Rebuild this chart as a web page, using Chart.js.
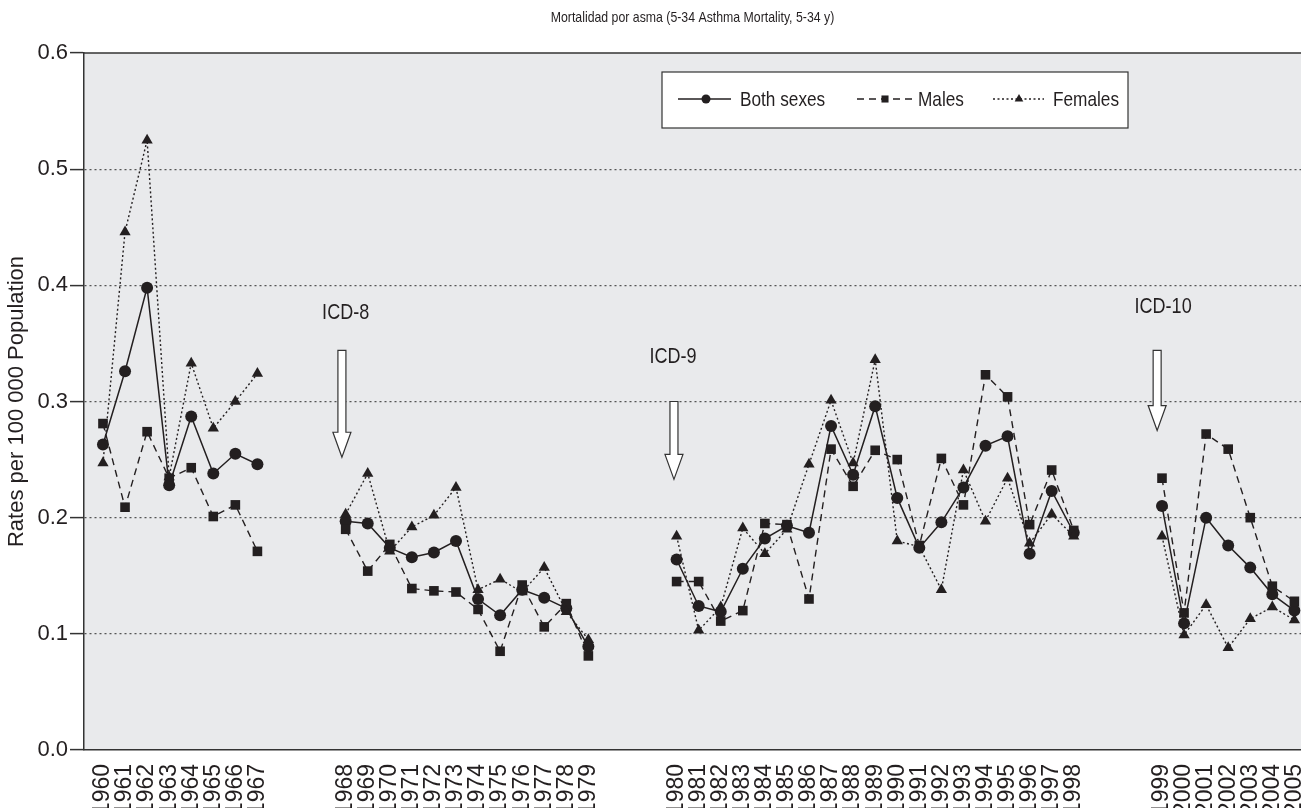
<!DOCTYPE html>
<html>
<head>
<meta charset="utf-8">
<script src="https://cdn.jsdelivr.net/npm/chart.js@4.4.1/dist/chart.umd.min.js"></script>
<style>
  html, body { margin: 0; padding: 0; background: #fff; }
</style>
</head>
<body>
<canvas id="myChart" width="1301" height="808"></canvas>
<script>
// categories along the x axis ('' = empty slot between the ICD periods)
const categories = [
  '1960', '1961', '1962', '1963', '1964', '1965', '1966', '1967', '', '', '',
  '1968', '1969', '1970', '1971', '1972', '1973', '1974', '1975', '1976', '1977', '1978', '1979', '', '', '',
  '1980', '1981', '1982', '1983', '1984', '1985', '1986', '1987', '1988', '1989', '1990', '1991', '1992',
  '1993', '1994', '1995', '1996', '1997', '1998', '', '', '',
  '1999', '2000', '2001', '2002', '2003', '2004', '2005',
];

const bothSexes = [
  0.263, 0.326, 0.398, 0.228, 0.287, 0.238, 0.255, 0.246, null, null, null,
  0.197, 0.195, 0.174, 0.166, 0.170, 0.180, 0.130, 0.116, 0.138, 0.131, 0.122, 0.089, null, null, null,
  0.164, 0.124, 0.119, 0.156, 0.182, 0.193, 0.187, 0.279, 0.237, 0.296, 0.217, 0.174, 0.196,
  0.226, 0.262, 0.270, 0.169, 0.223, 0.187, null, null, null,
  0.210, 0.109, 0.200, 0.176, 0.157, 0.134, 0.120,
];

const males = [
  0.281, 0.209, 0.274, 0.234, 0.243, 0.201, 0.211, 0.171, null, null, null,
  0.190, 0.154, 0.177, 0.139, 0.137, 0.136, 0.121, 0.085, 0.142, 0.106, 0.126, 0.081, null, null, null,
  0.145, 0.145, 0.111, 0.120, 0.195, 0.194, 0.130, 0.259, 0.227, 0.258, 0.250, 0.176, 0.251,
  0.211, 0.323, 0.304, 0.194, 0.241, 0.189, null, null, null,
  0.234, 0.118, 0.272, 0.259, 0.200, 0.141, 0.128,
];

const females = [
  0.247, 0.446, 0.525, 0.235, 0.333, 0.277, 0.300, 0.324, null, null, null,
  0.203, 0.238, 0.171, 0.192, 0.202, 0.226, 0.138, 0.147, 0.136, 0.157, 0.119, 0.095, null, null, null,
  0.184, 0.103, 0.123, 0.191, 0.169, 0.190, 0.246, 0.301, 0.247, 0.336, 0.180, 0.175, 0.138,
  0.241, 0.197, 0.234, 0.178, 0.203, 0.184, null, null, null,
  0.184, 0.099, 0.125, 0.088, 0.113, 0.123, 0.112,
];

const yTicks = [0, 0.1, 0.2, 0.3, 0.4, 0.5, 0.6];

// ICD revision markers (x in category slots, y in rate units)
const icdLabels = ['ICD-8', 'ICD-9', 'ICD-10'];
const icdTextX = [11.0, 25.84, 48.05];
const icdTextY = [0.376, 0.338, 0.381];
const icdArrowX = [10.83, 25.88, 47.78];
const icdArrowTop = [0.344, 0.300, 0.344];
const icdArrowTip = [0.252, 0.233, 0.275];

const chartTitle = 'Mortalidad por asma (5-34 Asthma Mortality, 5-34 y)';

const INK = '#231f20';
const REG = '"Liberation Sans", Arial, sans-serif';

const toPoints = (arr) => arr.map((v, i) => ({ x: i, y: v }));

// narrow helvetica look: squeeze Liberation Sans horizontally
function narrowText(ctx, text, x, y, size, align) {
  ctx.save();
  ctx.translate(x, y);
  ctx.scale(0.82, 1);
  ctx.font = size + 'px ' + REG;
  ctx.fillStyle = INK;
  ctx.textAlign = align;
  ctx.textBaseline = 'middle';
  ctx.fillText(text, 0, 0);
  ctx.restore();
}

const plotFrame = {
  id: 'plotFrame',
  beforeDraw(chart) {
    const { ctx, chartArea: a } = chart;
    ctx.save();
    ctx.fillStyle = '#e9eaec';
    ctx.fillRect(a.left, a.top, a.right - a.left, a.bottom - a.top);
    ctx.restore();
  },
  afterDraw(chart) {
    const { ctx, chartArea: a } = chart;
    ctx.save();
    ctx.strokeStyle = '#333';
    ctx.lineWidth = 1.5;
    ctx.beginPath();
    ctx.moveTo(a.left, a.top);
    ctx.lineTo(a.right, a.top);
    ctx.stroke();
    ctx.restore();
    narrowText(ctx, chartTitle, (a.left + a.right) / 2, 18, 15, 'center');
  },
};

const icdMarkers = {
  id: 'icdMarkers',
  afterDatasetsDraw(chart) {
    const { ctx } = chart;
    const xs = chart.scales.x;
    const ys = chart.scales.y;
    icdLabels.forEach((label, i) => {
      narrowText(ctx, label, xs.getPixelForValue(icdTextX[i]), ys.getPixelForValue(icdTextY[i]), 22, 'center');

      const x = xs.getPixelForValue(icdArrowX[i]);
      const top = ys.getPixelForValue(icdArrowTop[i]);
      const tip = ys.getPixelForValue(icdArrowTip[i]);
      const head = tip - 25;
      ctx.save();
      ctx.beginPath();
      ctx.moveTo(x - 4, top);
      ctx.lineTo(x + 4, top);
      ctx.lineTo(x + 4, head);
      ctx.lineTo(x + 9, head);
      ctx.lineTo(x, tip);
      ctx.lineTo(x - 9, head);
      ctx.lineTo(x - 4, head);
      ctx.closePath();
      ctx.fillStyle = '#fff';
      ctx.fill();
      ctx.strokeStyle = '#333';
      ctx.lineWidth = 1.2;
      ctx.stroke();
      ctx.restore();
    });
  },
};

const boxLegend = {
  id: 'boxLegend',
  afterDatasetsDraw(chart) {
    const { ctx, chartArea: a } = chart;
    const x0 = a.right - 639;
    const y0 = a.top + 19;
    const cy = y0 + 27;
    ctx.save();
    ctx.fillStyle = '#fff';
    ctx.fillRect(x0, y0, 466, 56);
    ctx.strokeStyle = '#333';
    ctx.lineWidth = 1.2;
    ctx.strokeRect(x0, y0, 466, 56);

    const items = chart.data.datasets.slice().reverse();
    const layout = [
      { l1: 16, l2: 69, m: 44, t: 78 },
      { l1: 195, l2: 250, m: 223, t: 256 },
      { l1: 331, l2: 382, m: 357, t: 391 },
    ];
    items.forEach((ds, i) => {
      const p = layout[i];
      ctx.strokeStyle = INK;
      ctx.lineWidth = 1.3;
      ctx.setLineDash(ds.borderDash || []);
      ctx.beginPath();
      ctx.moveTo(x0 + p.l1, cy);
      ctx.lineTo(x0 + p.l2, cy);
      ctx.stroke();
      ctx.setLineDash([]);
      ctx.fillStyle = INK;
      Chart.helpers.drawPoint(ctx, {
        pointStyle: ds.pointStyle, rotation: 0, radius: ds.legendRadius, borderWidth: 0,
      }, x0 + p.m, cy);
      narrowText(ctx, ds.label, x0 + p.t, cy + 1, 21, 'left');
    });
    ctx.restore();
  },
};

new Chart('myChart', {
  type: 'line',
  data: {
    datasets: [
      {
        label: 'Females',
        data: toPoints(females),
        borderColor: INK,
        backgroundColor: INK,
        borderWidth: 1.4,
        borderDash: [2, 2.5],
        pointStyle: 'triangle',
        pointRadius: 6.5,
        pointBorderWidth: 0,
        legendRadius: 5,
      },
      {
        label: 'Males',
        data: toPoints(males),
        borderColor: INK,
        backgroundColor: INK,
        borderWidth: 1.4,
        borderDash: [7, 5],
        pointStyle: 'rect',
        pointRadius: 6.8,
        pointBorderWidth: 0,
        legendRadius: 5,
      },
      {
        label: 'Both sexes',
        data: toPoints(bothSexes),
        borderColor: INK,
        backgroundColor: INK,
        borderWidth: 1.5,
        pointStyle: 'circle',
        pointRadius: 6,
        pointBorderWidth: 0,
        legendRadius: 4.5,
      },
    ],
  },
  options: {
    responsive: false,
    animation: false,
    devicePixelRatio: 1,
    spanGaps: false,
    elements: { line: { tension: 0 } },
    layout: { padding: { top: 53, left: 0, right: 0, bottom: 0 }, autoPadding: false },
    plugins: {
      legend: { display: false },
      tooltip: { enabled: false },
      title: { display: false },
    },
    scales: {
      x: {
        type: 'linear',
        min: -0.86,
        max: 54.3,
        afterBuildTicks(scale) {
          scale.ticks = categories.map((c, i) => ({ value: i }));
        },
        afterFit(scale) {
          scale.height = 58;
          scale.paddingLeft = 0;
          scale.paddingRight = 0;
        },
        grid: { display: false },
        border: { display: true, color: '#333', width: 1.5 },
        ticks: {
          autoSkip: false,
          minRotation: 90,
          maxRotation: 90,
          padding: 6,
          color: INK,
          font: { family: REG, size: 23 },
          callback: (v) => categories[v] ?? '',
        },
      },
      y: {
        min: 0,
        max: 0.6,
        afterBuildTicks(scale) {
          scale.ticks = yTicks.map((v) => ({ value: v }));
        },
        afterFit(scale) {
          scale.width = 84;
          scale.paddingTop = 0;
          scale.paddingBottom = 0;
        },
        grid: {
          color: (c) => (c.tick && (c.tick.value === 0 || c.tick.value === 0.6) ? 'rgba(0,0,0,0)' : '#555'),
          lineWidth: 1.2,
          tickLength: 14,
          tickColor: '#333',
          tickWidth: 1.5,
          tickBorderDash: [],
        },
        border: { display: true, color: '#333', width: 1.5, dash: [2, 3] },
        ticks: {
          padding: 2,
          color: INK,
          font: { family: REG, size: 22 },
          callback: (v) => v.toFixed(1),
        },
        title: {
          display: true,
          text: 'Rates per 100 000 Population',
          color: INK,
          font: { family: REG, size: 22 },
          padding: { top: 4 },
        },
      },
    },
  },
  plugins: [plotFrame, icdMarkers, boxLegend],
});
</script>
</body>
</html>
